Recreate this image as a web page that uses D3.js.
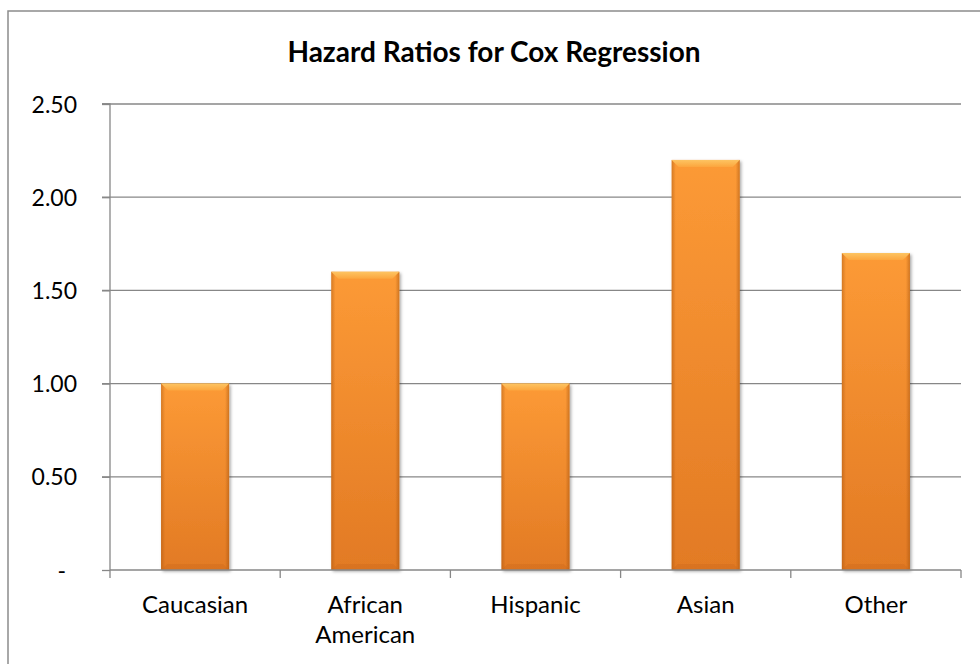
<!DOCTYPE html>
<html>
<head>
<meta charset="utf-8">
<script src="https://cdn.jsdelivr.net/npm/d3@7"></script>
<style>
  html, body { margin: 0; padding: 0; background: #fff; }
  svg { display: block; }
  text { font-family: Lato, "Open Sans", sans-serif; fill: #000; }
</style>
</head>
<body>
<svg id="chart" width="980" height="664"></svg>
<script>
// Hazard ratios by group
const categories = ["Caucasian", "African American", "Hispanic", "Asian", "Other"];
const hazardRatios = [1.00, 1.60, 1.00, 2.20, 1.70];
const yTicks = [0, 0.5, 1.0, 1.5, 2.0, 2.5];
const chartTitle = "Hazard Ratios for Cox Regression";

const svg = d3.select("#chart");
const plot = { left: 110, right: 961, top: 104, bottom: 570 };

const x = d3.scaleBand().domain(categories).range([plot.left, plot.right]).paddingInner(0.6).paddingOuter(0.3);
const xOuter = d3.scaleBand().domain(categories).range([plot.left, plot.right]).padding(0);
const y = d3.scaleLinear().domain([0, 2.5]).range([plot.bottom, plot.top]);

// Chart frame (continues past the right and bottom edges)
svg.append("rect")
  .attr("x", 8).attr("y", 11).attr("width", 1000).attr("height", 700)
  .attr("fill", "#fff").attr("stroke", "#8c8c8c").attr("stroke-width", 1.5);

const defs = svg.append("defs");
const vGrad = defs.append("linearGradient").attr("id", "barV").attr("x1", 0).attr("y1", 0).attr("x2", 0).attr("y2", 1);
vGrad.append("stop").attr("offset", "0%").attr("stop-color", "#fc9a36");
vGrad.append("stop").attr("offset", "100%").attr("stop-color", "#e27a24");

const hGrad = defs.append("linearGradient").attr("id", "barH").attr("x1", 0).attr("y1", 0).attr("x2", 1).attr("y2", 0);
hGrad.append("stop").attr("offset", "0%").attr("stop-color", "#9a4a08").attr("stop-opacity", 0.4);
hGrad.append("stop").attr("offset", "6%").attr("stop-color", "#9a4a08").attr("stop-opacity", 0.0);
hGrad.append("stop").attr("offset", "94%").attr("stop-color", "#9a4a08").attr("stop-opacity", 0.0);
hGrad.append("stop").attr("offset", "100%").attr("stop-color", "#9a4a08").attr("stop-opacity", 0.45);

const topGrad = defs.append("linearGradient").attr("id", "barTop").attr("x1", 0).attr("y1", 0).attr("x2", 0).attr("y2", 1);
topGrad.append("stop").attr("offset", "0%").attr("stop-color", "#fdc462");
topGrad.append("stop").attr("offset", "100%").attr("stop-color", "#fca63e");

const shadow = defs.append("filter").attr("id", "barShadow").attr("x", "-20%").attr("y", "-5%").attr("width", "140%").attr("height", "115%");
shadow.append("feDropShadow").attr("dx", 1.5).attr("dy", 1.5).attr("stdDeviation", 1.6)
  .attr("flood-color", "#000").attr("flood-opacity", 0.35);

// Gridlines
svg.append("g").selectAll("line").data(yTicks.filter(d => d > 0)).join("line")
  .attr("x1", plot.left - 8).attr("x2", plot.right)
  .attr("y1", d => y(d)).attr("y2", d => y(d))
  .attr("stroke", "#878787").attr("stroke-width", 1.3);

// Y axis
const yAxis = d3.axisLeft(y).tickValues(yTicks).tickSize(8)
  .tickFormat(d => d === 0 ? "-" : d3.format(".2f")(d));
const gy = svg.append("g").attr("transform", `translate(${plot.left},0)`).call(yAxis);
gy.select(".domain").attr("stroke", "#878787").attr("stroke-width", 1.3).attr("d", `M-8,${plot.top}H0V${plot.bottom}`);
gy.selectAll(".tick line").attr("stroke", "#878787").attr("stroke-width", 1.3);
gy.selectAll(".tick text")
  .attr("x", d => d === 0 ? -44 : -33).attr("dy", "0.35em")
  .style("font-size", "23px").style("font-family", "Lato, 'Open Sans', sans-serif").attr("fill", "#000");

// Bars
const bars = svg.append("g").selectAll("g").data(categories.map((c, i) => ({ c, v: hazardRatios[i] }))).join("g");
bars.append("rect")
  .attr("x", d => x(d.c)).attr("y", d => y(d.v))
  .attr("width", x.bandwidth()).attr("height", d => y(0) - y(d.v))
  .attr("fill", "url(#barV)").attr("filter", "url(#barShadow)");
bars.append("rect")
  .attr("x", d => x(d.c)).attr("y", d => y(d.v))
  .attr("width", x.bandwidth()).attr("height", d => y(0) - y(d.v))
  .attr("fill", "url(#barH)");
// Top bevel
bars.append("path")
  .attr("d", d => {
    const x0 = x(d.c), x1 = x0 + x.bandwidth(), t = y(d.v), b = 7;
    return `M${x0},${t}L${x1},${t}L${x1 - b},${t + b}L${x0 + b},${t + b}Z`;
  })
  .attr("fill", "url(#barTop)");
// Bottom bevel
bars.append("path")
  .attr("d", d => {
    const x0 = x(d.c), x1 = x0 + x.bandwidth(), bt = y(0), b = 6;
    return `M${x0},${bt}L${x1},${bt}L${x1 - b},${bt - b}L${x0 + b},${bt - b}Z`;
  })
  .attr("fill", "#c9661c").attr("opacity", 0.35);

// X axis
const gx = svg.append("g").attr("transform", `translate(0,${plot.bottom})`).call(d3.axisBottom(xOuter).tickSize(0).tickFormat(""));
gx.select(".domain").attr("stroke", "#878787").attr("stroke-width", 1.3).attr("d", `M${plot.left},0H${plot.right}`);
gx.selectAll(".tick").remove();
const xTickPos = categories.map(c => xOuter(c)).concat([plot.right]);
gx.selectAll("line.xt").data(xTickPos).join("line")
  .attr("x1", d => d).attr("x2", d => d).attr("y1", 0).attr("y2", 8)
  .attr("stroke", "#878787").attr("stroke-width", 1.3);

// Category labels (wrapped where needed)
const labels = svg.append("g").selectAll("text").data(categories).join("text")
  .attr("text-anchor", "middle")
  .attr("x", d => xOuter(d) + xOuter.bandwidth() / 2)
  .attr("y", 613)
  .style("font-size", "24px");
labels.each(function (d) {
  const t = d3.select(this);
  d.split(" ").forEach((w, i) => {
    t.append("tspan").attr("x", xOuter(d) + xOuter.bandwidth() / 2).attr("dy", i === 0 ? 0 : 30).text(w);
  });
});

// Title
svg.append("text")
  .attr("x", 494).attr("y", 62).attr("text-anchor", "middle")
  .style("font-size", "28px").style("font-weight", "bold")
  .text(chartTitle);
</script>
</body>
</html>
